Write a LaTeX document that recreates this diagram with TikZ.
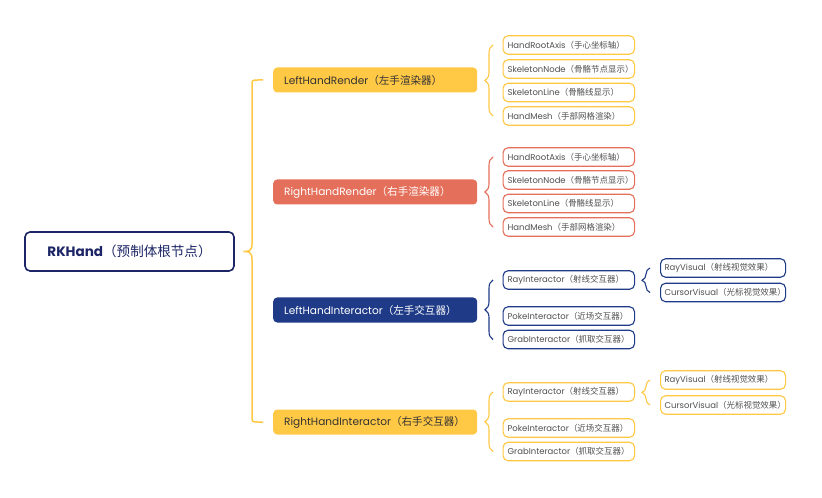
\documentclass[tikz,border=0pt]{standalone}
\usepackage{fontspec}
\setmainfont{Poppins}
\newfontfamily\cjk{Noto Sans CJK SC}
\usepackage{tikz}
\usetikzlibrary{positioning,calc,decorations.pathreplacing}
\usepackage{xcolor}
\definecolor{rkyellow}{HTML}{FFC845}
\definecolor{rkred}{HTML}{E4705B}
\definecolor{rknavy}{HTML}{1F3B87}
\definecolor{rkroot}{HTML}{1C2566}
\definecolor{rktext}{HTML}{333333}
\definecolor{rkgray}{HTML}{505050}
\newcommand{\zh}[1]{{\cjk #1}}

\tikzset{
  rootbox/.style={draw=rkroot, line width=1.6bp, rounded corners=5bp, fill=white,
    minimum width=209bp, minimum height=39bp, text=rkroot, align=center,
    font=\fontsize{13.6}{15}\selectfont},
  branch/.style={rounded corners=4bp, anchor=west, minimum height=25bp,
    text width=182bp, inner xsep=11bp, align=left, font=\fontsize{10.6}{12}\selectfont},
  leaf/.style={draw=#1, line width=1.1bp, rounded corners=5bp, anchor=west, fill=white,
    minimum height=18.5bp, text width=122.5bp, inner xsep=4.5bp, inner ysep=1bp,
    align=left, text=rkgray, font=\fontsize{8.5}{10}\selectfont},
  subleaf/.style={leaf=#1, text width=117bp, inner xsep=4bp},
  trunk/.style={draw=rkyellow, line width=1.5bp},
  grp/.style={draw=#1, line width=1.1bp, decorate,
    decoration={brace, amplitude=8bp}}
}

\begin{document}
\begin{tikzpicture}[x=1bp, y=-1bp]
  \useasboundingbox (0,0) rectangle (822,498);
  \node[rootbox] (root) at (129.5,251.5) {\textbf{RKHand}\zh{（预制体根节点）}};

  \node[branch, fill=rkyellow, text=rktext] (lhr) at (273,80) {LeftHandRender\zh{（左手渲染器）}};
  \node[branch, fill=rkred, text=white] (rhr) at (273,192) {RightHandRender\zh{（右手渲染器）}};
  \node[branch, fill=rknavy, text=white] (lhi) at (273,310) {LeftHandInteractor\zh{（左手交互器）}};
  \node[branch, fill=rkyellow, text=rktext] (rhi) at (273,422) {RightHandInteractor\zh{（右手交互器）}};

  \coordinate (tip) at ([xshift=8.5bp]root.east);
  \draw[trunk] ([xshift=-10bp]lhr.west) -- (258,80) .. controls (252,80) .. (252,86)
    -- (252,244) .. controls (252,251.5) and (248,251.5) .. (tip)
    .. controls (248,251.5) and (252,251.5) .. (252,259)
    -- (252,416) .. controls (252,422) .. (258,422) -- ([xshift=-10bp]rhi.west);

  \node[leaf=rkyellow] (lhrAxis) at (502.5,45) {HandRootAxis\zh{（手心坐标轴）}};
  \node[leaf=rkyellow] (lhrNode) at (502.5,69) {SkeletonNode\zh{（骨骼节点显示）}};
  \node[leaf=rkyellow] (lhrLine) at (502.5,92.5) {SkeletonLine\zh{（骨骼线显示）}};
  \node[leaf=rkyellow] (lhrMesh) at (502.5,116) {HandMesh\zh{（手部网格渲染）}};
  \draw[grp=rkyellow] ([xshift=-9.5bp]lhrMesh.west) -- ([xshift=-9.5bp]lhrAxis.west);

  \node[leaf=rkred] (rhrAxis) at (502.5,157) {HandRootAxis\zh{（手心坐标轴）}};
  \node[leaf=rkred] (rhrNode) at (502.5,180) {SkeletonNode\zh{（骨骼节点显示）}};
  \node[leaf=rkred] (rhrLine) at (502.5,203.5) {SkeletonLine\zh{（骨骼线显示）}};
  \node[leaf=rkred] (rhrMesh) at (502.5,227) {HandMesh\zh{（手部网格渲染）}};
  \draw[grp=rkred] ([xshift=-9.5bp]rhrMesh.west) -- ([xshift=-9.5bp]rhrAxis.west);

  \node[leaf=rknavy] (lhiRay) at (502.5,280) {RayInteractor\zh{（射线交互器）}};
  \node[leaf=rknavy] (lhiPoke) at (502.5,316) {PokeInteractor\zh{（近场交互器）}};
  \node[leaf=rknavy] (lhiGrab) at (502.5,339.5) {GrabInteractor\zh{（抓取交互器）}};
  \draw[grp=rknavy] ([xshift=-9.5bp]lhiGrab.west) -- ([xshift=-9.5bp]lhiRay.west);

  \node[subleaf=rknavy] (lhiRayVis) at (660,268) {RayVisual\zh{（射线视觉效果）}};
  \node[subleaf=rknavy] (lhiCursor) at (660,292.5) {CursorVisual\zh{（光标视觉效果）}};
  \draw[grp=rknavy] ([xshift=-10bp]lhiCursor.west) -- ([xshift=-10bp]lhiRayVis.west);

  \node[leaf=rkyellow] (rhiRay) at (502.5,392) {RayInteractor\zh{（射线交互器）}};
  \node[leaf=rkyellow] (rhiPoke) at (502.5,428) {PokeInteractor\zh{（近场交互器）}};
  \node[leaf=rkyellow] (rhiGrab) at (502.5,451.5) {GrabInteractor\zh{（抓取交互器）}};
  \draw[grp=rkyellow] ([xshift=-9.5bp]rhiGrab.west) -- ([xshift=-9.5bp]rhiRay.west);

  \node[subleaf=rkyellow] (rhiRayVis) at (660,380) {RayVisual\zh{（射线视觉效果）}};
  \node[subleaf=rkyellow] (rhiCursor) at (660,405) {CursorVisual\zh{（光标视觉效果）}};
  \draw[grp=rkyellow] ([xshift=-10bp]rhiCursor.west) -- ([xshift=-10bp]rhiRayVis.west);
\end{tikzpicture}
\end{document}
